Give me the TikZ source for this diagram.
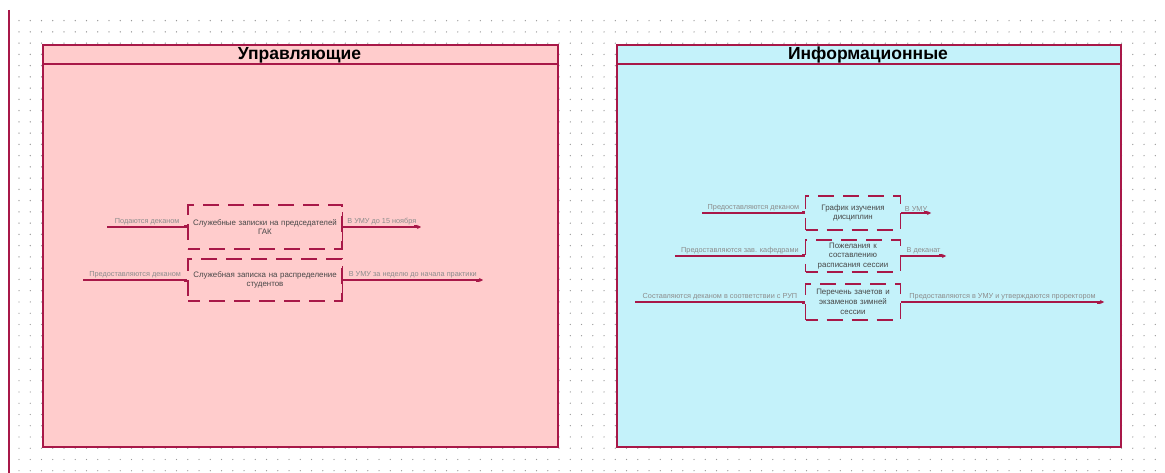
\documentclass[tikz,border=0pt]{standalone}
\usepackage{fontspec}
\setmainfont{Liberation Sans}
\usetikzlibrary{arrows.meta, positioning}
\definecolor{rim}{RGB}{168,24,72}
\definecolor{pinkfill}{RGB}{255,204,204}
\definecolor{cyanfill}{RGB}{196,242,250}
\tikzset{>=Stealth}
\tikzset{
	panel/.style={draw=rim, line width=1.6pt, inner sep=0pt, anchor=north west},
	func/.style={draw=rim, line width=1.3pt, dash pattern=on 16pt off 9pt, dash phase=4pt, align=center, inner sep=1pt,
		font=\fontsize{7.9}{9.8}\selectfont, text=black!72},
	side/.style={draw=rim, line width=1.3pt},
	flowin/.style={draw=rim, line width=1.3pt, -{Square[length=3pt,width=3pt]}},
	flowout/.style={draw=rim, line width=1.3pt, -{Square[length=3pt,width=3pt]Stealth[length=4pt,width=4pt]}},
	lbl/.style={font=\fontsize{7.3}{8}\selectfont, text=black!45, inner sep=1pt, above},
	ttl/.style={font=\bfseries\fontsize{17.5}{17.5}\selectfont}
}

\begin{document}
\begin{tikzpicture}[x=1pt, y=-1pt]
	\useasboundingbox (0,0) rectangle (1165,473);
	% dot grid
	\foreach \i in {0,...,101} \foreach \j in {0,...,40} \fill[black!40] (19+\i*11.25, 20.7+\j*11.25) circle (0.7pt);
	\draw[rim, line width=1.3pt] (9,10) -- (9,473);

	\node[panel, fill=pinkfill, minimum width=515pt, minimum height=402pt] (P1) at (42,44) {};
	\node[panel, fill=cyanfill, minimum width=504pt, minimum height=402pt] (P2) at (616,44) {};
	\draw[panel] ([yshift=-20pt]P1.north west) -- ([yshift=-20pt]P1.north east);
	\draw[panel] ([yshift=-20pt]P2.north west) -- ([yshift=-20pt]P2.north east);
	\node[ttl] (T1) at (299.5,55) {Управляющие};
	\node[ttl] (T2) at (868,55) {Информационные};

	% left part
	\node[func, minimum width=154pt, minimum height=44pt, text width=152pt] (A1) at (265,227) {Служебные записки на председателей\\ГАК};
	\node[func, minimum width=154pt, minimum height=42pt, text width=152pt] (A2) at (265,280) {Служебная записка на распределение\\студентов};
	\coordinate (a1) at (107,227); \coordinate (b1) at (421,227);
	\coordinate (a2) at (83,280);  \coordinate (b2) at (483,280);
	\draw[flowin] (a1) -- (A1.west) node[lbl, midway]{Подаются деканом};
	\draw[flowout] (A1.east) -- (b1) node[lbl, midway]{В УМУ до 15 ноября};
	\draw[flowin] (a2) -- (A2.west) node[lbl, midway]{Предоставляются деканом};
	\draw[flowout] (A2.east) -- (b2) node[lbl, midway]{В УМУ за неделю до начала практики};
	\foreach \bx in {A1,A2} \draw[side] ([yshift=-8pt]\bx.north east) -- ([yshift=2pt]\bx.south east);

	% right part
	\node[func, minimum width=95pt, minimum height=34pt, text width=93pt] (B1) at (853,213) {График изучения\\дисциплин};
	\node[func, minimum width=95pt, minimum height=32pt, text width=93pt] (B2) at (853,256) {Пожелания к\\составлению\\расписания сессии};
	\node[func, minimum width=95pt, minimum height=36pt, text width=93pt] (B3) at (853,302) {Перечень зачетов и\\экзаменов зимней\\сессии};
	\coordinate (c1) at (702,213); \coordinate (d1) at (931,213);
	\coordinate (c2) at (675,256); \coordinate (d2) at (946,256);
	\coordinate (c3) at (635,302); \coordinate (d3) at (1104,302);
	\draw[flowin] (c1) -- (B1.west) node[lbl, midway]{Предоставляются деканом};
	\draw[flowout] (B1.east) -- (d1) node[lbl, midway]{В УМУ};
	\draw[flowin] (c2) -- (B2.west) node[lbl, midway]{Предоставляются зав. кафедрами};
	\draw[flowout] (B2.east) -- (d2) node[lbl, midway]{В деканат};
	\draw[flowin] (c3) -- (B3.west) node[lbl, midway]{Составляются деканом в соответствии с РУП};
	\draw[flowout] (B3.east) -- (d3) node[lbl, midway]{Предоставляются в УМУ и утверждаются проректором};
\end{tikzpicture}
\end{document}
